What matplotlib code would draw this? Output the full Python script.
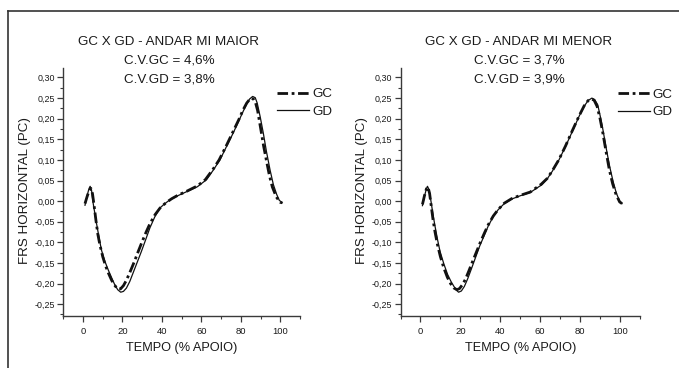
import matplotlib
matplotlib.use("Agg")
import matplotlib.pyplot as plt
from matplotlib.lines import Line2D
from matplotlib.ticker import MultipleLocator, FixedLocator, FixedFormatter

plt.rcParams['font.family'] = ['Liberation Sans', 'DejaVu Sans']

# ---------------- data ----------------
titles = ["GC X GD - ANDAR MI MAIOR", "GC X GD - ANDAR MI MENOR"]
cv_gc = ["C.V.GC = 4,6%", "C.V.GC = 3,7%"]
cv_gd = ["C.V.GD = 3,8%", "C.V.GD = 3,9%"]
series_names = ["GC", "GD"]
x_label = "TEMPO (% APOIO)"
y_label = "FRS HORIZONTAL (PC)"

xticks = [0, 20, 40, 60, 80, 100]
yticks = [-0.25, -0.20, -0.15, -0.10, -0.05, 0.00, 0.05, 0.10, 0.15, 0.20, 0.25, 0.30]
ytick_labels = ["-0,25", "-0,20", "-0,15", "-0,10", "-0,05", "0,00",
                "0,05", "0,10", "0,15", "0,20", "0,25", "0,30"]

# Left panel (MI MAIOR)
maior_gd_t = [1, 2, 3, 3.6, 4.3, 5.1, 6, 6.8, 8, 9.3, 11, 12.7, 14.5, 16.1, 17.6, 19.1, 20.5,
              22, 23.7, 25.4, 27.5, 29.6, 31.8, 33.9, 36.4, 38.9, 41.5, 44, 48, 53, 58, 62.6,
              66, 69.4, 73, 76.1, 79, 81.2, 83, 84.5, 86, 87.3, 88.3, 89.8, 91.4, 93, 94.8,
              96.5, 98.2, 99.5, 101]
maior_gd_v = [-0.010, 0.012, 0.030, 0.036, 0.027, -0.004, -0.030, -0.053, -0.085, -0.118,
              -0.145, -0.166, -0.186, -0.203, -0.215, -0.221, -0.219, -0.211, -0.195, -0.174,
              -0.148, -0.122, -0.093, -0.065, -0.038, -0.017, -0.006, 0.003, 0.013, 0.024,
              0.035, 0.052, 0.075, 0.100, 0.135, 0.165, 0.195, 0.218, 0.236, 0.248, 0.254,
              0.251, 0.238, 0.205, 0.165, 0.120, 0.076, 0.040, 0.016, 0.002, -0.004]
maior_gc_t = [1, 2, 3, 4, 4.8, 5.6, 6.5, 7.5, 8.5, 10, 11.5, 13, 14.5, 16, 17.5, 19, 20.5, 22,
              24, 26, 28, 30, 32, 34, 36.5, 39, 42, 45, 48, 53, 58, 62, 66, 69, 73, 76, 79, 81,
              83, 84.5, 85.5, 86.5, 87.5, 88.5, 90, 91.5, 93, 94.5, 96, 98, 100, 101]
maior_gc_v = [-0.006, 0.010, 0.024, 0.031, 0.018, -0.010, -0.045, -0.080, -0.105, -0.135,
              -0.158, -0.176, -0.192, -0.204, -0.213, -0.213, -0.205, -0.192, -0.170, -0.147,
              -0.122, -0.098, -0.075, -0.054, -0.033, -0.017, -0.004, 0.006, 0.014, 0.025,
              0.037, 0.052, 0.078, 0.100, 0.138, 0.168, 0.198, 0.220, 0.238, 0.247, 0.250,
              0.247, 0.238, 0.220, 0.178, 0.135, 0.098, 0.062, 0.034, 0.010, -0.003, -0.004]

# Right panel (MI MENOR)
menor_gd_t = [1, 2, 3, 3.5, 4.3, 5.4, 6.3, 7.3, 8.5, 9.8, 11.7, 13.6, 15.3, 16.9, 18, 19.1,
              20.5, 22, 23.7, 25.4, 27.5, 29.6, 31.8, 33.9, 36.4, 38.9, 42, 45.7, 50, 55, 60.9,
              63.5, 66, 69.4, 72.7, 76, 79.5, 82, 84, 85.9, 87.3, 88.8, 90, 91.4, 93, 94.8,
              96.5, 98.1, 99.8, 101]
menor_gd_v = [-0.011, 0.012, 0.030, 0.036, 0.028, -0.004, -0.033, -0.061, -0.092, -0.122,
              -0.152, -0.178, -0.195, -0.208, -0.216, -0.221, -0.218, -0.207, -0.188, -0.166,
              -0.138, -0.110, -0.085, -0.061, -0.038, -0.021, -0.006, 0.005, 0.013, 0.021,
              0.040, 0.054, 0.072, 0.100, 0.133, 0.168, 0.206, 0.230, 0.244, 0.250, 0.246,
              0.234, 0.208, 0.174, 0.130, 0.084, 0.048, 0.020, 0.000, -0.006]
menor_gc_t = [1, 2, 3, 3.8, 4.6, 5.4, 6.3, 7.3, 8.5, 10, 11.7, 13.5, 15.2, 16.8, 18.3, 19.6,
              21, 22.5, 24.2, 26, 28, 30, 32, 34, 36.5, 39, 42, 45.7, 50, 55, 60.5, 63.5, 66,
              69.4, 72.7, 76, 79.5, 82, 84, 85.5, 87, 88.5, 90, 91.4, 93, 94.6, 96.3, 98,
              99.8, 101]
menor_gc_v = [-0.008, 0.013, 0.030, 0.034, 0.018, -0.012, -0.045, -0.075, -0.105, -0.135,
              -0.162, -0.185, -0.201, -0.211, -0.215, -0.212, -0.203, -0.190, -0.170, -0.148,
              -0.124, -0.100, -0.078, -0.057, -0.036, -0.020, -0.005, 0.006, 0.014, 0.022,
              0.041, 0.055, 0.073, 0.101, 0.134, 0.170, 0.207, 0.231, 0.244, 0.248, 0.245,
              0.230, 0.200, 0.165, 0.120, 0.077, 0.042, 0.016, -0.002, -0.006]

panels = [
    (maior_gc_t, maior_gc_v, maior_gd_t, maior_gd_v),
    (menor_gc_t, menor_gc_v, menor_gd_t, menor_gd_v),
]

# ---------------- layout ----------------
W, H = 679, 368
fig = plt.figure(figsize=(W / 100, H / 100), dpi=100)
fig.patch.set_facecolor("white")

ax_rects = [
    (63.3 / W, 1 - 315.7 / H, (300 - 63.3) / W, (315.7 - 68) / H),
    (400.5 / W, 1 - 315.7 / H, (640 - 400.5) / W, (315.7 - 68) / H),
]
title_cx = [169 / W, 519 / W]
ylabel_x = [25 / W, 362.5 / W]
legend_anchor = [(277 / W, 1 - 103 / H), (617.5 / W, 1 - 103.5 / H)]

txt_color = "#1a1a1a"
spine_color = "#3a3a3a"
big = 9.6

for i, (gct, gcv, gdt, gdv) in enumerate(panels):
    ax = fig.add_axes(ax_rects[i])
    ax.set_facecolor("none")
    l_gc, = ax.plot(gct, gcv, color="#111111", lw=2.0,
                    linestyle=(0, (3.8, 1.3, 1.0, 1.3)), dash_capstyle="butt",
                    label=series_names[0])
    l_gd, = ax.plot(gdt, gdv, color="#111111", lw=0.9, label=series_names[1])

    ax.set_xlim(-10, 110)
    ax.set_ylim(-0.278, 0.323)
    for s in ("top", "right"):
        ax.spines[s].set_visible(False)
    for s in ("left", "bottom"):
        ax.spines[s].set_color(spine_color)
        ax.spines[s].set_linewidth(1.0)

    ax.xaxis.set_major_locator(FixedLocator(xticks))
    ax.xaxis.set_minor_locator(MultipleLocator(10))
    ax.yaxis.set_major_locator(FixedLocator(yticks))
    ax.yaxis.set_major_formatter(FixedFormatter(ytick_labels))
    ax.yaxis.set_minor_locator(MultipleLocator(0.025))
    ax.tick_params(axis="both", which="major", length=4, width=0.9, color=spine_color,
                   labelsize=6.4, labelcolor=txt_color, pad=2, direction="out")
    ax.tick_params(axis="both", which="minor", length=2.5, width=0.8, color=spine_color,
                   direction="out")
    ax.tick_params(axis="x", which="major", pad=4, labelsize=6.8)

    fig.text(title_cx[i], 1 - 42 / H, titles[i], ha="center", va="center",
             fontsize=big, color=txt_color)
    fig.text(title_cx[i], 1 - 60.5 / H, cv_gc[i], ha="center", va="center",
             fontsize=big, color=txt_color)
    fig.text(title_cx[i], 1 - 79 / H, cv_gd[i], ha="center", va="center",
             fontsize=big, color=txt_color)

    fig.text(ylabel_x[i], 1 - 191 / H, y_label, rotation=90, ha="center", va="center",
             fontsize=big, color=txt_color)
    fig.text((ax_rects[i][0] + ax_rects[i][2] / 2), 1 - 348 / H, x_label,
             ha="center", va="center", fontsize=9.2, color=txt_color)

    ax.legend(handles=[l_gc, l_gd], loc="center left", bbox_to_anchor=legend_anchor[i],
              bbox_transform=fig.transFigure, frameon=False, fontsize=big,
              handlelength=2.4, handletextpad=0.25, labelspacing=0.4,
              borderpad=0, borderaxespad=0, labelcolor=txt_color)

# outer frame (left and top edges of the cropped figure border)
fig.add_artist(Line2D([8.3 / W, 8.3 / W], [0, 1 - 11 / H], transform=fig.transFigure,
                      color="#333333", lw=1.2))
fig.add_artist(Line2D([8.3 / W, 1], [1 - 11 / H, 1 - 11 / H], transform=fig.transFigure,
                      color="#333333", lw=1.2))

fig.savefig("out.png", dpi=100)
